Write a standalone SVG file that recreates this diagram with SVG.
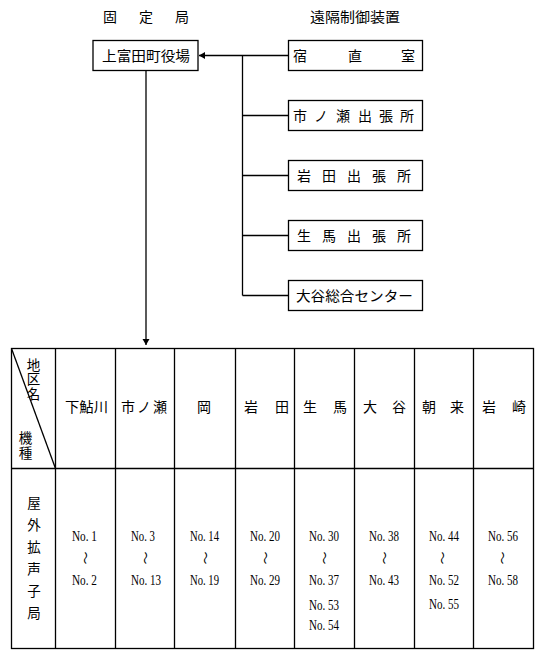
<svg xmlns="http://www.w3.org/2000/svg" width="544" height="658" viewBox="0 0 544 658">
<defs>
<style>
.box{fill:#fff;stroke:#000;stroke-width:1.3}
.ln{fill:none;stroke:#000;stroke-width:1.3}
.jp{font-family:"Noto Sans CJK JP","Noto Sans CJK SC",sans-serif;font-size:14px;fill:#000}
.vt{font-family:"Noto Sans CJK JP","Noto Sans CJK SC",sans-serif;font-size:13.5px;fill:#000;writing-mode:vertical-rl;text-orientation:upright}
.num{font-family:"Liberation Serif",serif;font-size:15px;fill:#000}
.wave{font-family:"Noto Sans CJK JP","Noto Sans CJK SC",sans-serif;font-size:13px;fill:#000;text-anchor:middle;dominant-baseline:central}
</style>
<marker id="ah" markerUnits="userSpaceOnUse" markerWidth="8" markerHeight="8" refX="6" refY="3.5" orient="auto">
<path d="M0,0 L6,3.5 L0,7 Z" fill="#000"/>
</marker>
</defs>
<rect width="544" height="658" fill="#fff"/>

<g id="titles">
<text class="jp" x="103 139 175" y="22">固定局</text>
<text class="jp" x="310" y="22" textLength="90" lengthAdjust="spacingAndGlyphs">遠隔制御装置</text>
</g>

<g id="connectors">
<line class="ln" x1="288" y1="55.5" x2="199" y2="55.5" marker-end="url(#ah)"/>
<line class="ln" x1="242.5" y1="55.5" x2="242.5" y2="295.5"/>
<line class="ln" x1="242.5" y1="115.5" x2="288" y2="115.5"/>
<line class="ln" x1="242.5" y1="175.5" x2="288" y2="175.5"/>
<line class="ln" x1="242.5" y1="235.5" x2="288" y2="235.5"/>
<line class="ln" x1="242.5" y1="295.5" x2="288" y2="295.5"/>
<line class="ln" x1="146" y1="70" x2="146" y2="345" marker-end="url(#ah)"/>
</g>

<g id="yakuba">
<rect class="box" x="93" y="40.5" width="105" height="30"/>
<text class="jp" x="102" y="61" textLength="88" lengthAdjust="spacingAndGlyphs">上富田町役場</text>
</g>
<g id="shukuchoku">
<rect class="box" x="288.5" y="40.5" width="134" height="30"/>
<text class="jp" x="293 348 401" y="61">宿直室</text>
</g>
<g id="ichinose">
<rect class="box" x="288.5" y="100.5" width="134" height="30"/>
<text class="jp" x="293 314 336 358 379 400" y="121">市ノ瀬出張所</text>
</g>
<g id="iwata">
<rect class="box" x="288.5" y="160.5" width="134" height="30"/>
<text class="jp" x="297 322 347 372 397" y="181">岩田出張所</text>
</g>
<g id="ikuma">
<rect class="box" x="288.5" y="220.5" width="134" height="30"/>
<text class="jp" x="297 322 347 372 397" y="241">生馬出張所</text>
</g>
<g id="ooya">
<rect class="box" x="288.5" y="280.5" width="134" height="30"/>
<text class="jp" x="296" y="301" textLength="117" lengthAdjust="spacingAndGlyphs">大谷総合センター</text>
</g>

<g id="table">
<rect class="box" x="11.5" y="348.5" width="522" height="300"/>
<line class="ln" x1="11.5" y1="468.5" x2="533.5" y2="468.5"/>
<line class="ln" x1="55.5" y1="348.5" x2="55.5" y2="648.5"/>
<line class="ln" x1="115.5" y1="348.5" x2="115.5" y2="648.5"/>
<line class="ln" x1="174.5" y1="348.5" x2="174.5" y2="648.5"/>
<line class="ln" x1="235.5" y1="348.5" x2="235.5" y2="648.5"/>
<line class="ln" x1="294.5" y1="348.5" x2="294.5" y2="648.5"/>
<line class="ln" x1="354.5" y1="348.5" x2="354.5" y2="648.5"/>
<line class="ln" x1="414.5" y1="348.5" x2="414.5" y2="648.5"/>
<line class="ln" x1="473.5" y1="348.5" x2="473.5" y2="648.5"/>
<line class="ln" x1="11.5" y1="348.5" x2="55.5" y2="468.5"/>

<text class="vt" x="33.5" y="358" letter-spacing="1">地区名</text>
<text class="vt" x="25.5" y="431" letter-spacing="1.5">機種</text>

<text class="jp" x="65" y="412" textLength="43" lengthAdjust="spacingAndGlyphs">下鮎川</text>
<text class="jp" x="121 137 153" y="412">市ノ瀬</text>
<text class="jp" x="197" y="412">岡</text>
<text class="jp" x="244 275" y="412">岩田</text>
<text class="jp" x="303 333" y="412">生馬</text>
<text class="jp" x="363 392" y="412">大谷</text>
<text class="jp" x="422 450" y="412">朝来</text>
<text class="jp" x="482 512" y="412">岩崎</text>

<text class="vt" x="34" y="496" font-size="14" letter-spacing="8.6">屋外拡声子局</text>

<text class="num" x="72" y="541" textLength="25" lengthAdjust="spacingAndGlyphs">No. 1</text>
<text class="wave" x="86" y="558" transform="rotate(90 86 558)">～</text>
<text class="num" x="72" y="585" textLength="25" lengthAdjust="spacingAndGlyphs">No. 2</text>

<text class="num" x="131" y="541" textLength="24" lengthAdjust="spacingAndGlyphs">No. 3</text>
<text class="wave" x="146" y="558" transform="rotate(90 146 558)">～</text>
<text class="num" x="131" y="585" textLength="30" lengthAdjust="spacingAndGlyphs">No. 13</text>

<text class="num" x="190" y="541" textLength="29" lengthAdjust="spacingAndGlyphs">No. 14</text>
<text class="wave" x="206" y="558" transform="rotate(90 206 558)">～</text>
<text class="num" x="190" y="585" textLength="29" lengthAdjust="spacingAndGlyphs">No. 19</text>

<text class="num" x="250" y="541" textLength="30" lengthAdjust="spacingAndGlyphs">No. 20</text>
<text class="wave" x="266" y="558" transform="rotate(90 266 558)">～</text>
<text class="num" x="250" y="585" textLength="30" lengthAdjust="spacingAndGlyphs">No. 29</text>

<text class="num" x="309" y="541" textLength="30" lengthAdjust="spacingAndGlyphs">No. 30</text>
<text class="wave" x="325" y="558" transform="rotate(90 325 558)">～</text>
<text class="num" x="309" y="585" textLength="30" lengthAdjust="spacingAndGlyphs">No. 37</text>
<text class="num" x="309" y="610" textLength="30" lengthAdjust="spacingAndGlyphs">No. 53</text>
<text class="num" x="309" y="630" textLength="30" lengthAdjust="spacingAndGlyphs">No. 54</text>

<text class="num" x="369" y="541" textLength="30" lengthAdjust="spacingAndGlyphs">No. 38</text>
<text class="wave" x="385" y="558" transform="rotate(90 385 558)">～</text>
<text class="num" x="369" y="585" textLength="30" lengthAdjust="spacingAndGlyphs">No. 43</text>

<text class="num" x="429" y="541" textLength="30" lengthAdjust="spacingAndGlyphs">No. 44</text>
<text class="wave" x="443" y="558" transform="rotate(90 443 558)">～</text>
<text class="num" x="429" y="585" textLength="30" lengthAdjust="spacingAndGlyphs">No. 52</text>
<text class="num" x="429" y="609" textLength="30" lengthAdjust="spacingAndGlyphs">No. 55</text>

<text class="num" x="488" y="541" textLength="30" lengthAdjust="spacingAndGlyphs">No. 56</text>
<text class="wave" x="503" y="558" transform="rotate(90 503 558)">～</text>
<text class="num" x="488" y="585" textLength="30" lengthAdjust="spacingAndGlyphs">No. 58</text>
</g>
</svg>
